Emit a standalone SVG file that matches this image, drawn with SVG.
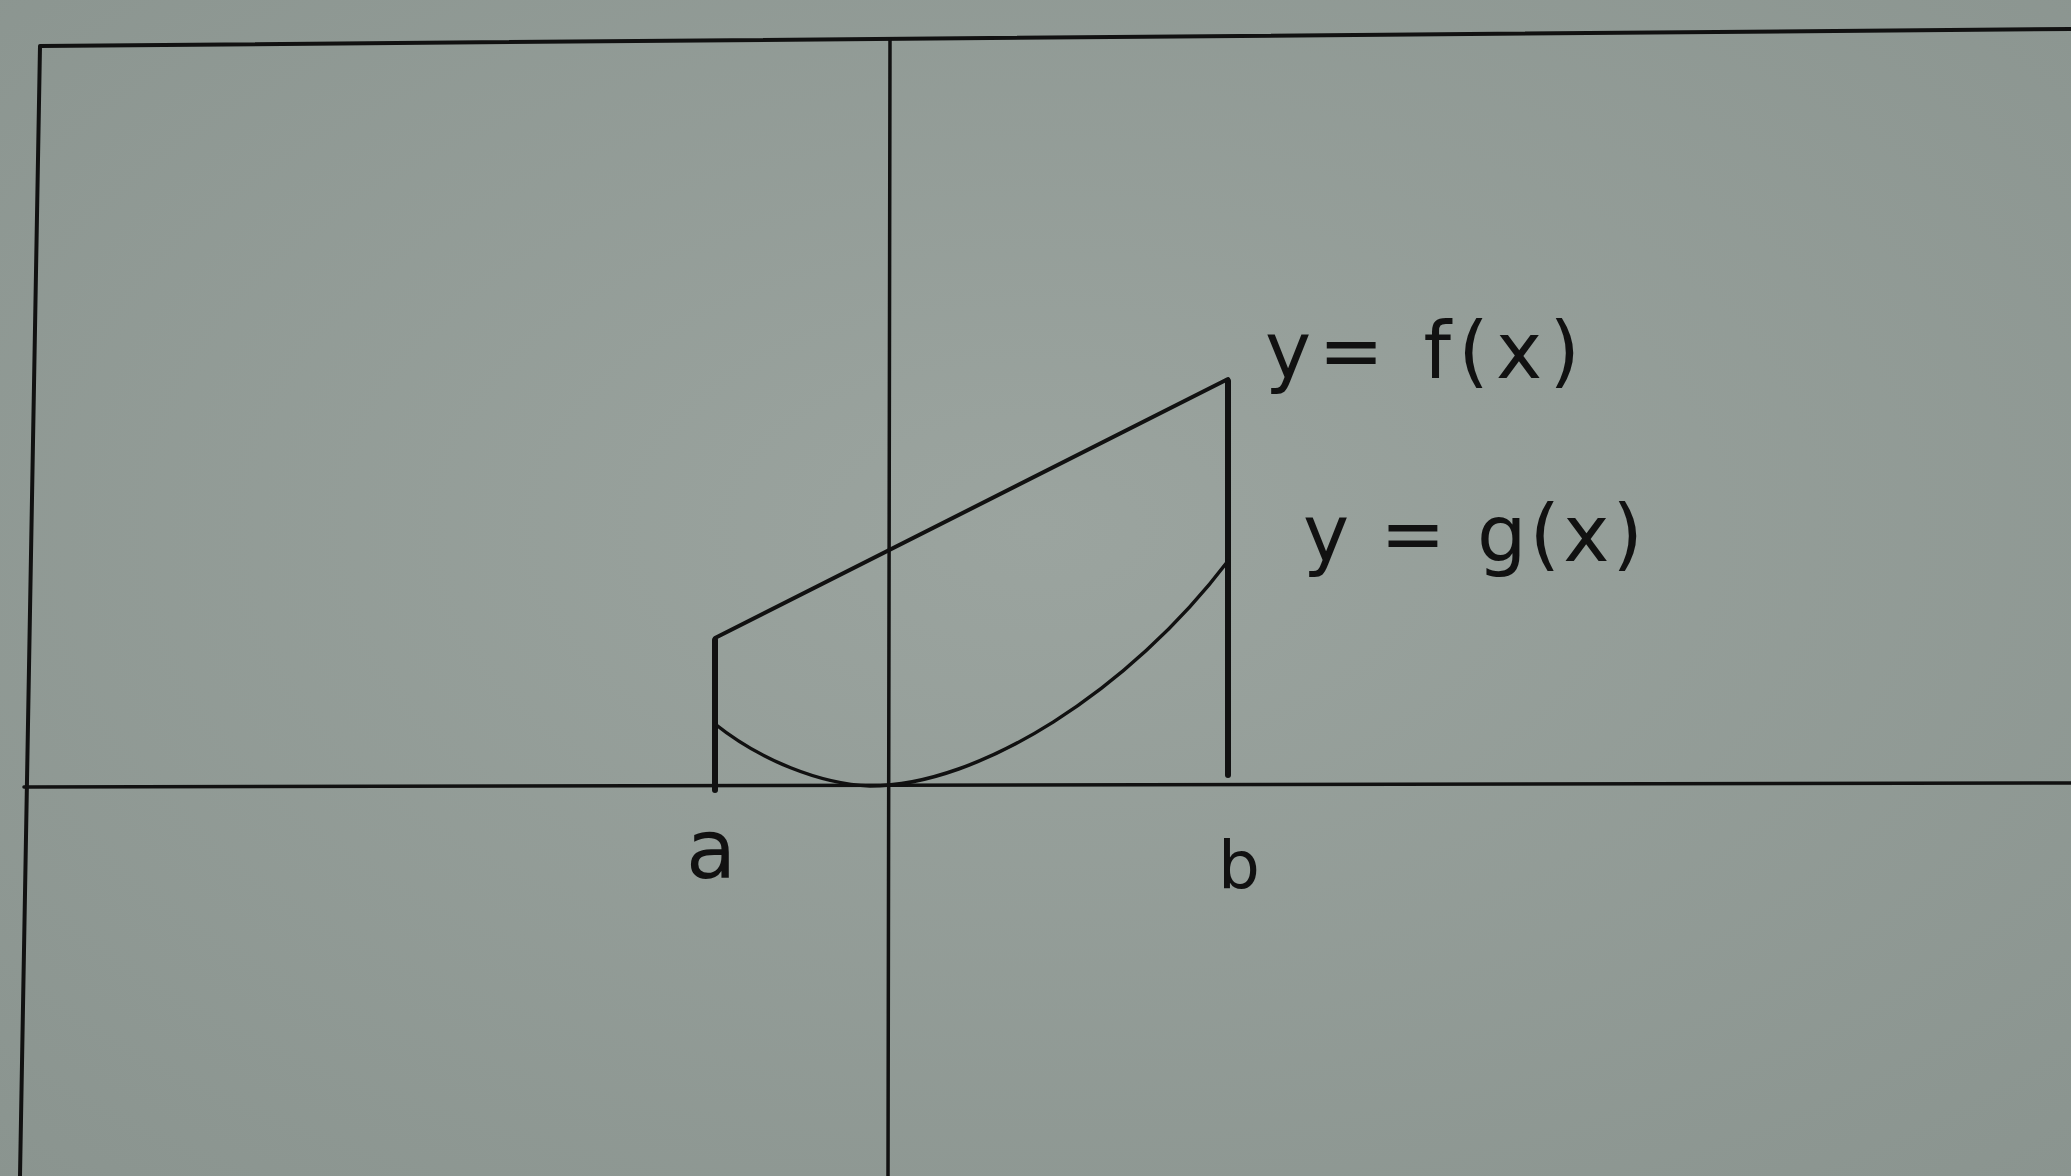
<svg xmlns="http://www.w3.org/2000/svg" width="2071" height="1176" viewBox="0 0 2071 1176">
<defs>
<radialGradient id="paper" cx="0.5" cy="0.45" r="0.75">
<stop offset="0" stop-color="#9ba49f"/>
<stop offset="1" stop-color="#8a948f"/>
</radialGradient>
<style>
.ink{stroke:#111;fill:none;stroke-linecap:round;stroke-linejoin:round}
.lbl{font-family:"DejaVu Sans","Liberation Sans",sans-serif;fill:#111}
</style>
</defs>
<rect width="2071" height="1176" fill="url(#paper)"/>
<g id="frame">
<path class="ink" d="M20,1176 L40,46 L2071,29" stroke-width="4"/>
</g>
<g id="axes">
<line class="ink" x1="890" y1="40" x2="888" y2="1176" stroke-width="3.5"/>
<line class="ink" x1="24" y1="787" x2="2071" y2="783" stroke-width="3.5"/>
</g>
<g id="connectors">
<line class="ink" x1="715" y1="640" x2="715" y2="790" stroke-width="6"/>
<line class="ink" x1="1228" y1="381" x2="1228" y2="775" stroke-width="6"/>
<path id="f-line" class="ink" d="M715,638 L1228,379" stroke-width="4"/>
<path id="g-curve" class="ink" d="M715,724 C760,760 820,784 870,786 C980,786 1130,690 1228,561" stroke-width="3.5"/>
</g>
<g id="label-f">
<text class="lbl" x="1265" y="378" font-size="78" textLength="315" lengthAdjust="spacing">y= f(x)</text>
</g>
<g id="label-g">
<text class="lbl" x="1303" y="561" font-size="78" textLength="340" lengthAdjust="spacing">y = g(x)</text>
</g>
<g id="label-a">
<text class="lbl" x="686" y="878" font-size="82">a</text>
</g>
<g id="label-b">
<text class="lbl" x="1218" y="888" font-size="66">b</text>
</g>
</svg>
